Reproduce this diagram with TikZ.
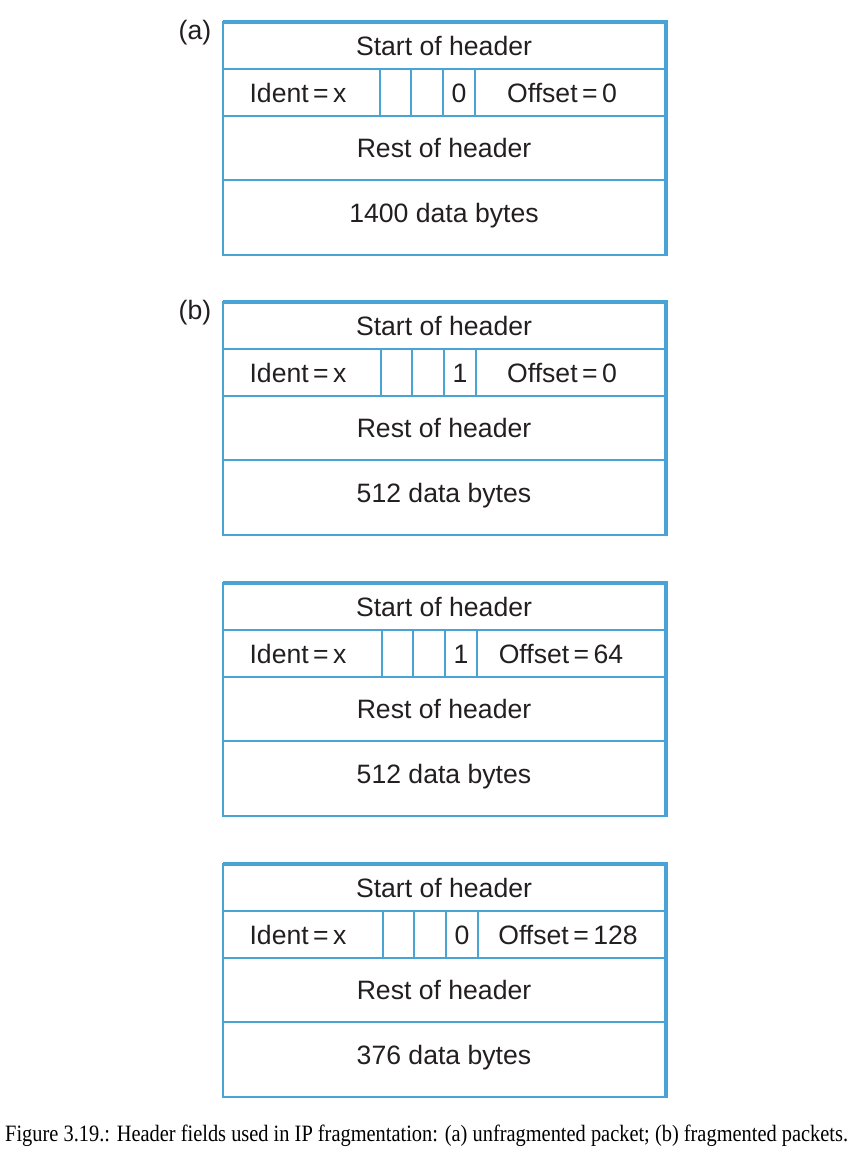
\documentclass[tikz,border=0pt]{standalone}
\usepackage{fontspec}
\setmainfont{Liberation Serif}
\setsansfont{Liberation Sans}
\definecolor{pblue}{HTML}{4AA3D5}
\definecolor{ink}{HTML}{231F20}
\tikzset{
  thinline/.style={draw=pblue,line width=1.5pt},
  thickedge/.style={draw=pblue,line width=4.5pt,line join=miter},
  lbl/.style={font=\sffamily\fontsize{26.6}{30}\selectfont,text=ink,inner sep=0pt},
  captext/.style={font=\rmfamily\fontsize{20.4}{24}\selectfont,text=black,inner sep=0pt,anchor=base west}
}
\begin{document}
\begin{tikzpicture}[x=1pt,y=-1pt]
\useasboundingbox (0,0) rectangle (862,1168);
\foreach \n/\t/\f/\o/\d/\s/\ox in {
  pa/22/0/{Offset\,=\,0}/{1400 data bytes}/0/562,
  pb/302/1/{Offset\,=\,0}/{512 data bytes}/1/562,
  pc/583/1/{Offset\,=\,64}/{512 data bytes}/2/561,
  pd/864/0/{Offset\,=\,128}/{376 data bytes}/3/568}{
  \draw[thinline] (223,\t) rectangle (665,\t+233);
  \draw[thinline] (223,\t+47) -- (665,\t+47);
  \draw[thinline] (223,\t+94) -- (665,\t+94);
  \draw[thinline] (223,\t+158) -- (665,\t+158);
  \draw[thinline] (380+\s,\t+47) -- (380+\s,\t+94);
  \draw[thinline] (411+\s,\t+47) -- (411+\s,\t+94);
  \draw[thinline] (443+\s,\t+47) -- (443+\s,\t+94);
  \draw[thinline] (475+\s,\t+47) -- (475+\s,\t+94);
  \draw[thickedge] (223,\t) -- (666,\t) -- (666,\t+234);
  \node[lbl] (\n-start) at (444,\t+24) {Start of header};
  \node[lbl] (\n-ident) at (298,\t+71) {Ident\,=\,x};
  \node[lbl] (\n-flag) at (459+\s,\t+71) {\f};
  \node[lbl] (\n-off) at (\ox,\t+71) {\o};
  \node[lbl] (\n-rest) at (444,\t+126) {Rest of header};
  \node[lbl] (\n-data) at (444,\t+194) {\d};
}
\node[lbl] (la) at (195,33) {(a)};
\node[lbl] (lb) at (195,313) {(b)};
\node[captext] (caption) at (5,1141) {\scalebox{1}[1.15]{Figure 3.19.: Header fields used in IP fragmentation: (a) unfragmented packet; (b) fragmented packets.}};
\end{tikzpicture}
\end{document}
